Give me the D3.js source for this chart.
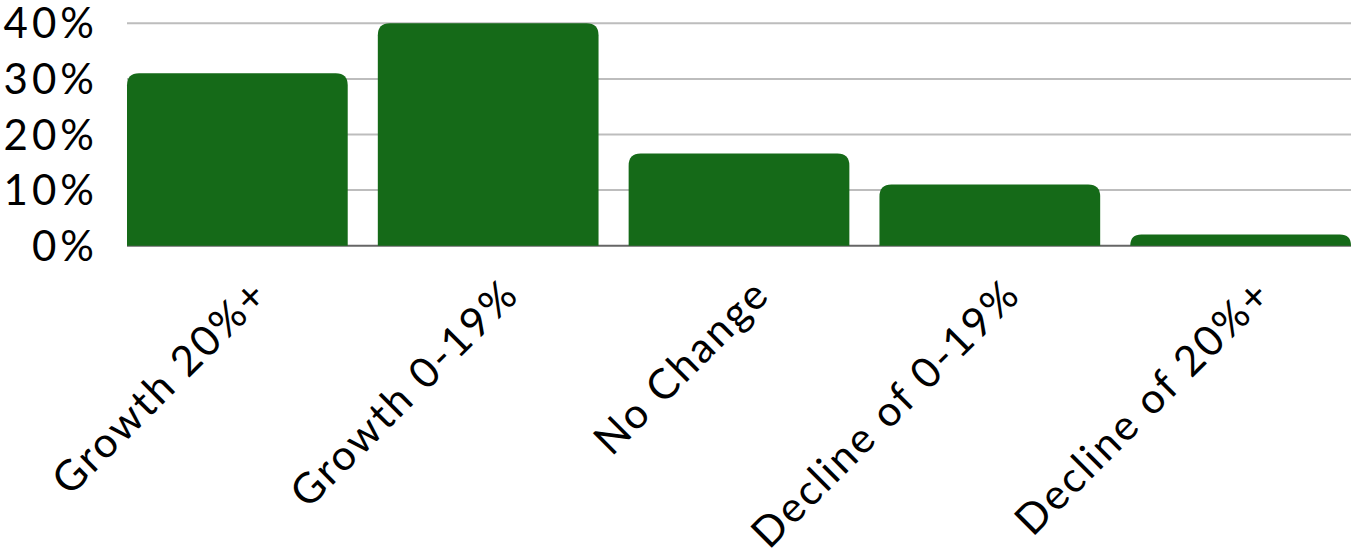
<!DOCTYPE html>
<html>
<head>
<meta charset="utf-8">
<script src="https://cdn.jsdelivr.net/npm/d3@7"></script>
<style>
  html, body { margin: 0; padding: 0; background: #ffffff; }
  svg { display: block; }
  text { font-family: "Lato", "Open Sans", sans-serif; fill: #000; }
</style>
</head>
<body>
<svg id="chart" width="1351" height="550"></svg>
<script>
// Share of respondents by change category
const categories = ["Growth 20%+", "Growth 0-19%", "No Change", "Decline of 0-19%", "Decline of 20%+"];
const shares = [31, 40, 16.6, 11, 2];
const yTicks = [0, 10, 20, 30, 40];
const yTickLabels = ["0%", "10%", "20%", "30%", "40%"];

const W = 1351, H = 550;
const plot = { left: 127, right: 1351, top: 23.3, bottom: 245.7 };

const svg = d3.select("#chart");

const x = d3.scaleBand()
  .domain(categories)
  .range([plot.left, plot.right])
  .paddingInner(0.12)
  .paddingOuter(0);

const y = d3.scaleLinear()
  .domain([0, 40])
  .range([plot.bottom, plot.top]);

// horizontal gridlines
svg.append("g")
  .selectAll("line")
  .data(yTicks.filter(d => d > 0))
  .join("line")
  .attr("x1", plot.left)
  .attr("x2", plot.right)
  .attr("y1", d => y(d))
  .attr("y2", d => y(d))
  .attr("stroke", "#bdbdbd")
  .attr("stroke-width", 2);

// baseline
svg.append("line")
  .attr("x1", plot.left)
  .attr("x2", plot.right)
  .attr("y1", y(0))
  .attr("y2", y(0))
  .attr("stroke", "#666666")
  .attr("stroke-width", 2);

// bars with rounded top corners
const r = 12;
function topRounded(x0, y0, w, h, rad) {
  const rr = Math.min(rad, h, w / 2);
  return `M${x0},${y0 + h}` +
    `V${y0 + rr}` +
    `Q${x0},${y0} ${x0 + rr},${y0}` +
    `H${x0 + w - rr}` +
    `Q${x0 + w},${y0} ${x0 + w},${y0 + rr}` +
    `V${y0 + h}Z`;
}

svg.append("g")
  .selectAll("path")
  .data(categories.map((c, i) => ({ c, v: shares[i] })))
  .join("path")
  .attr("fill", "#156a18")
  .attr("d", d => topRounded(x(d.c), y(d.v), x.bandwidth(), y(0) - y(d.v), r));

// y-axis labels
const yLs = 4;
svg.append("g")
  .selectAll("text")
  .data(yTicks)
  .join("text")
  .attr("x", 94 + yLs)
  .attr("y", d => y(d))
  .attr("dy", "0.36em")
  .attr("text-anchor", "end")
  .attr("font-size", 42)
  .attr("letter-spacing", yLs)
  .text((d, i) => yTickLabels[i]);

// rotated category labels
const xLs = 2.4;
svg.append("g")
  .selectAll("text")
  .data(categories)
  .join("text")
  .attr("text-anchor", "end")
  .attr("font-size", 42)
  .attr("letter-spacing", xLs)
  .attr("transform", d => `translate(${x(d) + x.bandwidth() / 2 + 33},${y(0) + 51}) rotate(-45)`)
  .text(d => d);
</script>
</body>
</html>
